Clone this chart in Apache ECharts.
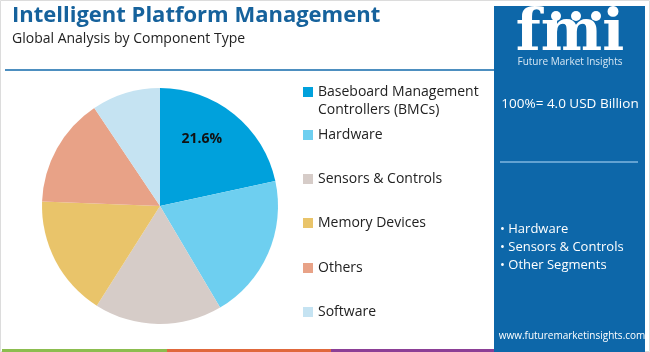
<!DOCTYPE html>
<html>
<head>
<meta charset="utf-8">
<script src="https://cdn.jsdelivr.net/npm/echarts@6/dist/echarts.min.js"></script>
<style>
  html, body { margin: 0; padding: 0; background: #fff; }
  #chart { width: 650px; height: 352px; }
</style>
</head>
<body>
<div id="chart"></div>
<script>
var categories = ['Baseboard Management\nControllers (BMCs)', 'Hardware', 'Sensors & Controls', 'Memory Devices', 'Others', 'Software']
var shares = [21.6, 19.9, 17.5, 16.6, 15.0, 9.4]
var colors = ['#00a1dc', '#6ecff0', '#d6ccc8', '#e9c46a', '#e8a287', '#c5e3f2']
var legendTops = [78, 121, 165, 209, 254, 298]
var panelBullets = ['• Hardware', '• Sensors & Controls', '• Other Segments']
var totalText = '100%= 4.0 USD Billion'

var font = '"Open Sans", sans-serif'
var panelBlue = '#0d67a9'
// square sitting at the top of a taller box, so it lines up with the first text line
var topSquare = 'path://M0,0L10,0L10,10L0,10Z M0,28L0.01,28'

var chart = echarts.init(document.getElementById('chart'), null, { renderer: 'canvas' })

var pieData = []
for (var i = 0; i < categories.length; i++) {
  pieData.push({
    name: categories[i],
    value: shares[i],
    itemStyle: { color: colors[i] },
    label: { show: i === 0 }
  })
}

var legends = categories.map(function (name, i) {
  var twoLine = name.indexOf('\n') >= 0
  return {
    data: [{ name: name, icon: twoLine ? topSquare : 'rect' }],
    left: 298,
    top: legendTops[i],
    orient: 'vertical',
    itemWidth: 10,
    itemHeight: twoLine ? 28 : 10,
    selectedMode: false,
    textStyle: {
      fontFamily: font,
      fontSize: 14,
      color: '#222',
      lineHeight: 18
    }
  }
})

var bulletTexts = panelBullets.map(function (t, i) {
  return {
    type: 'text', left: 500, top: 223 + i * 18,
    style: { text: t, fill: '#fff', font: '13px ' + font }
  }
})

var option = {
  backgroundColor: '#fff',
  animation: false,
  legend: legends,
  graphic: [
    // outer frame
    { type: 'rect', shape: { x: 0.5, y: 0.5, width: 649, height: 351 }, style: { fill: 'none', stroke: '#dcdcdc', lineWidth: 1 } },
    // title block
    { type: 'text', left: 12, top: 5, style: { text: 'Intelligent Platform Management', fill: '#16629c', font: 'bold 22px ' + font } },
    { type: 'text', left: 12, top: 32, style: { text: 'Global Analysis by Component Type', fill: '#222', font: '14px ' + font } },
    { type: 'line', shape: { x1: 5, y1: 70, x2: 494, y2: 70 }, style: { stroke: '#4d8fc0', lineWidth: 2 } },
    // bottom colour strip
    { type: 'rect', shape: { x: 2, y: 349, width: 165, height: 3 }, style: { fill: '#8cbd4f' } },
    { type: 'rect', shape: { x: 167, y: 349, width: 164, height: 3 }, style: { fill: '#e0683c' } },
    { type: 'rect', shape: { x: 331, y: 349, width: 163, height: 3 }, style: { fill: '#8c3f96' } },
    // right panel
    { type: 'rect', shape: { x: 494, y: 6, width: 151, height: 346 }, style: { fill: panelBlue } },
    { type: 'text', x: 570, y: 6, style: { text: 'fmi', fill: '#fff', font: 'bold 58px "DejaVu Serif", serif', textAlign: 'center' } },
    { type: 'circle', shape: { cx: 556, cy: 16, r: 5 }, style: { fill: '#fff' } },
    { type: 'circle', shape: { cx: 576, cy: 16, r: 5 }, style: { fill: '#fff' } },
    { type: 'circle', shape: { cx: 596, cy: 16, r: 5 }, style: { fill: '#fff' } },
    { type: 'text', x: 570, y: 57, style: { text: 'Future Market Insights', fill: '#d7e7f4', font: '10px ' + font, textAlign: 'center' } },
    { type: 'text', x: 570, y: 97, style: { text: totalText, fill: '#fff', font: '13.5px ' + font, textAlign: 'center' } },
    { type: 'line', shape: { x1: 500, y1: 162, x2: 638, y2: 162 }, style: { stroke: '#7fb6e0', lineWidth: 1.5 } },
    { type: 'text', x: 572, y: 331, style: { text: 'www.futuremarketinsights.com', fill: '#fff', font: '10px ' + font, textAlign: 'center' } }
  ].concat(bulletTexts),
  series: [{
    type: 'pie',
    center: [160, 206],
    radius: 118,
    startAngle: 90,
    clockwise: true,
    silent: true,
    label: {
      position: 'inside',
      formatter: '{c}%',
      fontFamily: font,
      fontWeight: 'bold',
      fontSize: 14,
      color: '#111',
      offset: [3, -19]
    },
    labelLine: { show: false },
    itemStyle: { borderWidth: 0 },
    data: pieData
  }]
}

chart.setOption(option)
</script>
</body>
</html>
